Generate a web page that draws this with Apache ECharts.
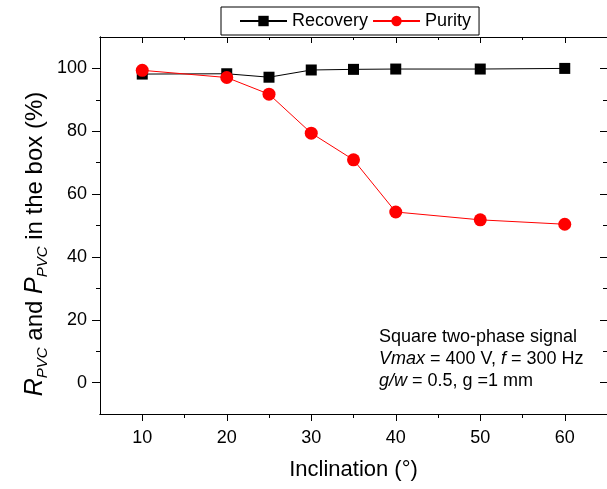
<!DOCTYPE html>
<html>
<head>
<meta charset="utf-8">
<script src="https://cdn.jsdelivr.net/npm/echarts@6/dist/echarts.min.js"></script>
<style>
  html, body { margin: 0; padding: 0; background: #fff; }
  #chart { width: 607px; height: 489px; }
</style>
</head>
<body>
<div id="chart"></div>
<script>
const inclination = [10, 20, 25, 30, 35, 40, 50, 60];
const recovery = [98.2, 98.3, 97.2, 99.5, 99.7, 99.8, 99.8, 100.0];
const purity = [99.4, 97.1, 91.8, 79.4, 70.9, 54.3, 51.8, 50.4];

const xMajor = [10, 20, 30, 40, 50, 60];
const xMinor = [15, 25, 35, 45, 55];
const yMajor = [0, 20, 40, 60, 80, 100];
const yMinor = [10, 30, 50, 70, 90];

const font = "'Liberation Sans', Arial, sans-serif";
const chart = echarts.init(document.getElementById("chart"));

const line = { show: true, onZero: false, lineStyle: { color: "#000", width: 1 } };

function xAxis(pos, ticks, len, inside, labels, extra) {
  return Object.assign({
    type: "value",
    position: pos,
    min: 5,
    max: 65,
    axisLine: line,
    splitLine: { show: false },
    axisTick: {
      show: true,
      inside: inside,
      length: len,
      customValues: ticks,
      lineStyle: { color: "#000", width: 1 },
    },
    axisLabel: labels
      ? { customValues: ticks, color: "#000", fontSize: 18, fontFamily: font, margin: 15 }
      : { show: false },
  }, extra || {});
}

function yAxis(pos, ticks, len, inside, labels) {
  return {
    type: "value",
    position: pos,
    min: -10,
    max: 110,
    axisLine: line,
    splitLine: { show: false },
    axisTick: {
      show: true,
      inside: inside,
      length: len,
      customValues: ticks,
      lineStyle: { color: "#000", width: 1 },
    },
    axisLabel: labels
      ? { customValues: ticks, color: "#000", fontSize: 18, fontFamily: font, margin: 13 }
      : { show: false },
  };
}

const option = {
  animation: false,
  grid: { left: 100, top: 37, width: 508, height: 377 },
  legend: {
    left: 221,
    top: 7,
    padding: [5, 8, 5, 18],
    itemGap: 4,
    itemWidth: 47,
    itemHeight: 13,
    borderColor: "#000",
    borderWidth: 1,
    borderRadius: 0,
    textStyle: { color: "#000", fontSize: 18, fontFamily: font },
    data: ["Recovery", "Purity"],
  },
  xAxis: [
    xAxis("bottom", xMajor, 7, false, true, {
      name: "Inclination (°)",
      nameLocation: "middle",
      nameGap: 45,
      nameTextStyle: { color: "#000", fontSize: 22, fontFamily: font },
    }),
    xAxis("bottom", xMinor, 4, false, false),
    xAxis("top", xMajor, 6, true, false),
    xAxis("top", xMinor, 3, true, false),
  ],
  yAxis: [
    yAxis("left", yMajor, 8, false, true),
    yAxis("left", yMinor, 4, false, false),
    yAxis("right", yMajor, 7, true, false),
    yAxis("right", yMinor, 4, true, false),
  ],
  series: [
    {
      name: "Recovery",
      type: "line",
      data: inclination.map((x, i) => [x, recovery[i]]),
      symbol: "rect",
      symbolSize: 11,
      color: "#000",
      lineStyle: { color: "#000", width: 1 },
      itemStyle: { color: "#000" },
    },
    {
      name: "Purity",
      type: "line",
      data: inclination.map((x, i) => [x, purity[i]]),
      symbol: "circle",
      symbolSize: 13,
      color: "#ff0000",
      lineStyle: { color: "#ff0000", width: 1 },
      itemStyle: { color: "#ff0000" },
    },
  ],
  graphic: [
    {
      type: "text",
      x: 35,
      y: 244,
      rotation: Math.PI / 2,
      style: {
        text: "{i|R}{s|PVC}{n| and }{i|P}{s|PVC}{n| in the box (%)}",
        fill: "#000",
        align: "center",
        verticalAlign: "middle",
        font: "24px " + font,
        rich: {
          i: { fontSize: 25, fontStyle: "italic", fontFamily: font, fill: "#000" },
          s: { fontSize: 15, fontStyle: "italic", fontFamily: font, fill: "#000", padding: [15, 0, 0, 0] },
          n: { fontSize: 24, fontFamily: font, fill: "#000" },
        },
      },
    },
    {
      type: "text",
      left: 379,
      top: 326,
      style: {
        text: "{n|Square two-phase signal}\n{i|Vmax}{n| = 400 V, }{i|f}{n| = 300 Hz}\n{i|g/w}{n| = 0.5, g =1 mm}",
        fill: "#000",
        font: "18px " + font,
        lineHeight: 22,
        rich: {
          n: { fontSize: 18, fontFamily: font, fill: "#000", lineHeight: 22 },
          i: { fontSize: 18, fontFamily: font, fontStyle: "italic", fill: "#000", lineHeight: 22 },
        },
      },
    },
  ],
};

chart.setOption(option);
</script>
</body>
</html>
